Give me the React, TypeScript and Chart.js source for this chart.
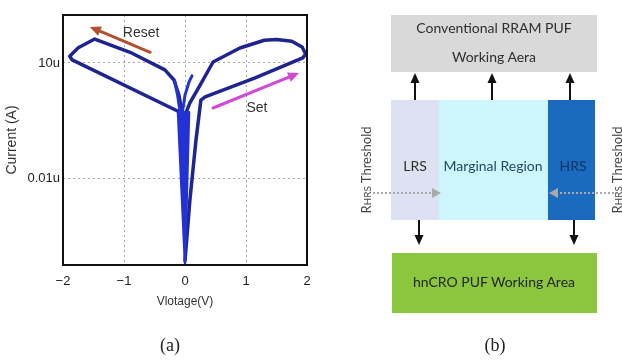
import React, { useEffect, useRef } from 'react';
import { Chart, registerables } from 'chart.js';
Chart.register(...registerables);

// ---- data (voltage in V, current in A) ----
const setVoltage = [0.0, 0.08, 0.18, 0.26, 0.33, 1.15, 1.93, 1.98, 1.92, 1.75, 1.5, 1.3, 0.9, 0.46, 0.25, 0.08, -0.02];
const setCurrent = [7e-11, 2.6e-9, 9.8e-8, 1.07e-6, 1.3e-6, 4.1e-6, 1.35e-5, 1.7e-5, 2.6e-5, 3.7e-5, 4.1e-5, 3.9e-5, 2.46e-5, 1.06e-5, 2.7e-6, 9.1e-7, 3.6e-7];
const resetVoltage = [-0.08, -1.85, -1.89, -1.75, -1.48, -0.9, -0.33, -0.18, -0.1, -0.05];
const resetCurrent = [5.2e-7, 1.2e-5, 1.5e-5, 2.5e-5, 4.2e-5, 1.9e-5, 6.6e-6, 3.6e-6, 1.45e-6, 5.2e-7];
const spikeVoltage = [-0.115, 0.0, 0.066, -0.115];
const spikeCurrent = [5.2e-7, 6e-11, 5.2e-7, 5.2e-7];
const hookVoltage = [-0.05, 0.0, 0.066, 0.115];
const hookCurrent = [4.4e-7, 1.45e-6, 3.2e-6, 4.6e-6];
const stemVoltage = [-0.17, -0.12, -0.08];
const stemCurrent = [3.4e-6, 1.4e-6, 5.2e-7];

const xTickValues = [-2, -1, 0, 1, 2];
const xTickLabels = ['\u22122', '\u22121', '0', '1', '2'];
const yTickValues = [1e-8, 1e-5];
const yTickLabels = ['0.01u', '10u'];

const arrowLabels = ['Reset', 'Set'];
const arrowColors = ['#b4502f', '#d04ad4'];
const arrowFromV = [-0.57, 0.46];
const arrowFromI = [1.9e-5, 6.7e-7];
const arrowToV = [-1.56, 1.87];
const arrowToI = [8.7e-5, 5.5e-6];
const labelV = [-0.72, 1.18];
const labelI = [6e-5, 6.7e-7];

const pts = (vs: number[], is: number[]) => vs.map((v, i) => ({ x: v, y: is[i] }));

const NAVY = '#1f2590';
const BRIGHT = '#2232d4';

const annotPlugin = {
  id: 'annot',
  afterDatasetsDraw(chart: any) {
    const { ctx, chartArea, scales } = chart;
    const xs = scales.x;
    const ys = scales.y;
    ctx.save();
    arrowLabels.forEach((lab, i) => {
      const x0 = xs.getPixelForValue(arrowFromV[i]);
      const y0 = ys.getPixelForValue(arrowFromI[i]);
      const x1 = xs.getPixelForValue(arrowToV[i]);
      const y1 = ys.getPixelForValue(arrowToI[i]);
      const ang = Math.atan2(y1 - y0, x1 - x0);
      const hl = 11;
      const hw = 5;
      const bx = x1 - hl * Math.cos(ang);
      const by = y1 - hl * Math.sin(ang);
      ctx.strokeStyle = arrowColors[i];
      ctx.fillStyle = arrowColors[i];
      ctx.lineWidth = 3;
      ctx.lineCap = 'round';
      ctx.beginPath();
      ctx.moveTo(x0, y0);
      ctx.lineTo(bx, by);
      ctx.stroke();
      ctx.beginPath();
      ctx.moveTo(x1, y1);
      ctx.lineTo(bx + hw * Math.sin(ang), by - hw * Math.cos(ang));
      ctx.lineTo(bx - hw * Math.sin(ang), by + hw * Math.cos(ang));
      ctx.closePath();
      ctx.fill();
      ctx.fillStyle = '#333';
      ctx.font = '14px "Liberation Sans", Arial, sans-serif';
      ctx.textAlign = 'center';
      ctx.textBaseline = 'middle';
      ctx.fillText(lab, xs.getPixelForValue(labelV[i]), ys.getPixelForValue(labelI[i]));
    });
    ctx.strokeStyle = '#111';
    ctx.lineWidth = 2;
    ctx.strokeRect(chartArea.left, chartArea.top, chartArea.right - chartArea.left, chartArea.bottom - chartArea.top);
    ctx.restore();
  },
};

export default function App() {
  const ref = useRef<HTMLCanvasElement>(null);
  useEffect(() => {
    const lineDs = (label: string, data: any[], color: string, width: number, extra: any = {}) => ({
      label,
      data,
      showLine: true,
      borderColor: color,
      backgroundColor: color,
      borderWidth: width,
      pointRadius: 0,
      tension: 0,
      borderJoinStyle: 'round',
      borderCapStyle: 'round',
      ...extra,
    });
    const chart = new Chart(ref.current as HTMLCanvasElement, {
      type: 'scatter',
      data: {
        datasets: [
          lineDs('spike', pts(spikeVoltage, spikeCurrent), BRIGHT, 2.5, { fill: 'shape' }),
          lineDs('hook', pts(hookVoltage, hookCurrent), BRIGHT, 3),
          lineDs('stem', pts(stemVoltage, stemCurrent), BRIGHT, 3),
          lineDs('set', pts(setVoltage, setCurrent), NAVY, 3.5),
          lineDs('reset', pts(resetVoltage, resetCurrent), NAVY, 3.5),
        ],
      },
      options: {
        responsive: false,
        animation: false,
        layout: { padding: { top: 15, right: 13, left: 0, bottom: 0 } },
        plugins: { legend: { display: false }, tooltip: { enabled: false } },
        scales: {
          x: {
            type: 'linear',
            min: -2,
            max: 2,
            afterFit: (s: any) => { s.height = 55; },
            afterBuildTicks: (s: any) => { s.ticks = xTickValues.map((v) => ({ value: v })); },
            ticks: {
              autoSkip: false,
              padding: 9,
              color: '#222',
              font: { family: '"Liberation Sans", Arial, sans-serif', size: 13 },
              callback: (v: any) => xTickLabels[xTickValues.indexOf(Number(v))] ?? '',
            },
            grid: { color: '#a5a5a5', lineWidth: 1, drawTicks: false },
            border: { display: false, dash: [2, 3] },
            title: {
              display: true,
              text: 'Vlotage(V)',
              color: '#333',
              padding: { top: 0, bottom: 11 },
              font: { family: '"Liberation Sans", Arial, sans-serif', size: 12 },
            },
          },
          y: {
            type: 'logarithmic',
            min: 5.4e-11,
            max: 1.78e-4,
            afterFit: (s: any) => { s.width = 63; },
            afterBuildTicks: (s: any) => { s.ticks = yTickValues.map((v) => ({ value: v })); },
            ticks: {
              autoSkip: false,
              padding: 3,
              color: '#222',
              font: { family: '"Liberation Sans", Arial, sans-serif', size: 13 },
              callback: (v: any) => {
                const i = yTickValues.findIndex((t) => Math.abs(t - Number(v)) / t < 1e-6);
                return i >= 0 ? yTickLabels[i] : '';
              },
            },
            grid: { color: '#a5a5a5', lineWidth: 1, drawTicks: false },
            border: { display: false, dash: [2, 3] },
            title: {
              display: true,
              text: 'Current (A)',
              color: '#333',
              padding: { top: 4, bottom: 0 },
              font: { family: '"Liberation Sans", Arial, sans-serif', size: 14 },
            },
          },
        },
      } as any,
      plugins: [annotPlugin],
    });
    return () => chart.destroy();
  }, []);

  const diagFont = 'Lato, "Open Sans", sans-serif';
  const upX = [415, 492, 570];
  const downX = [419, 574];

  return (
    <div style={{ position: 'absolute', left: 0, top: 0, width: 622, height: 361, background: '#fff', overflow: 'hidden' }}>
      <canvas ref={ref} width={320} height={320} style={{ position: 'absolute', left: 0, top: 0, width: 320, height: 320 }} />
      <svg width={622} height={361} style={{ position: 'absolute', left: 0, top: 0 }}>
        <rect x={391} y={15} width={206} height={57} fill="#d9d9d9" />
        <text x={494} y={29} textAnchor="middle" dominantBaseline="middle" fontFamily={diagFont} fontSize={14} fill="#2e2e2e">Conventional RRAM PUF</text>
        <text x={494} y={58} textAnchor="middle" dominantBaseline="middle" fontFamily={diagFont} fontSize={14} fill="#2e2e2e">Working Aera</text>
        {upX.map((x) => (
          <g key={x}>
            <line x1={x} y1={100} x2={x} y2={82} stroke="#111" strokeWidth={2} />
            <polygon points={`${x - 4.5},83 ${x + 4.5},83 ${x},73`} fill="#111" />
          </g>
        ))}
        <rect x={391} y={100} width={48} height={120} fill="#dce2f1" />
        <rect x={439} y={100} width={109} height={120} fill="#cdf6fc" />
        <rect x={548} y={100} width={47} height={120} fill="#1a6bc0" />
        <text x={415} y={167} textAnchor="middle" dominantBaseline="middle" fontFamily={diagFont} fontSize={14} fill="#2e2e2e">LRS</text>
        <text x={493} y={167} textAnchor="middle" dominantBaseline="middle" fontFamily={diagFont} fontSize={14} fill="#1d4a60">Marginal Region</text>
        <text x={573} y={167} textAnchor="middle" dominantBaseline="middle" fontFamily={diagFont} fontSize={14} fill="#0f3560">HRS</text>
        <line x1={373} y1={193} x2={432} y2={193} stroke="#aaaaaa" strokeWidth={2} strokeDasharray="2 2" />
        <polygon points="432,188 432,198 441,193" fill="#aaaaaa" />
        <line x1={614} y1={193} x2={558} y2={193} stroke="#aaaaaa" strokeWidth={2} strokeDasharray="2 2" />
        <polygon points="558,188 558,198 549,193" fill="#aaaaaa" />
        <text x={368} y={170} transform="rotate(-90 368 170)" textAnchor="middle" dominantBaseline="middle" fontFamily={diagFont} fontSize={13} fill="#444">R<tspan fontSize={10}>HRS</tspan> Threshold</text>
        <text x={619} y={170} transform="rotate(-90 619 170)" textAnchor="middle" dominantBaseline="middle" fontFamily={diagFont} fontSize={13} fill="#444">R<tspan fontSize={10}>HRS</tspan> Threshold</text>
        {downX.map((x) => (
          <g key={x}>
            <line x1={x} y1={220} x2={x} y2={236} stroke="#111" strokeWidth={2} />
            <polygon points={`${x - 4.5},235 ${x + 4.5},235 ${x},245`} fill="#111" />
          </g>
        ))}
        <rect x={392} y={253} width={205} height={60} fill="#8cc63f" />
        <text x={494} y={283} textAnchor="middle" dominantBaseline="middle" fontFamily={diagFont} fontSize={14} fill="#262626">hnCRO PUF Working Area</text>
        <text x={170} y={347} textAnchor="middle" dominantBaseline="middle" fontFamily='"Liberation Serif", serif' fontSize={18} fill="#222">(a)</text>
        <text x={495} y={347} textAnchor="middle" dominantBaseline="middle" fontFamily='"Liberation Serif", serif' fontSize={18} fill="#222">(b)</text>
      </svg>
    </div>
  );
}
